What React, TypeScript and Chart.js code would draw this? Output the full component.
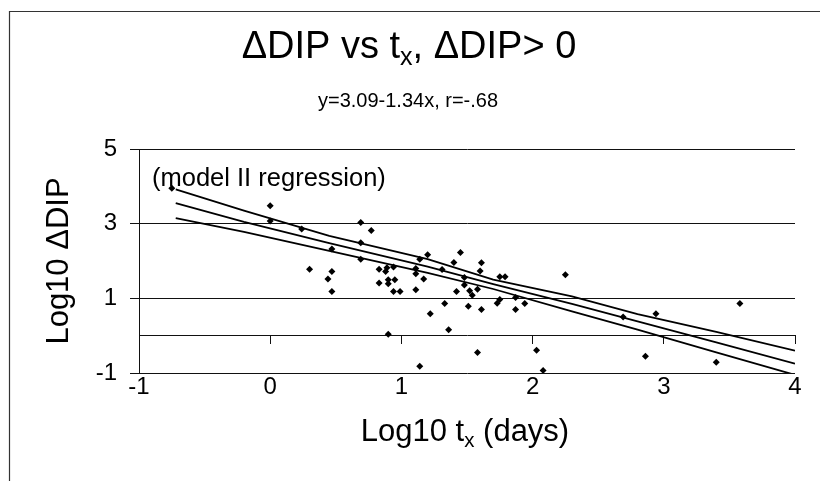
import React, { useEffect, useRef } from 'react';
import { Chart, registerables } from 'chart.js';

Chart.register(...registerables);

const FONT = '"Liberation Sans", Arial, Helvetica, sans-serif';

// Observed points: log10 t_x (days) and log10 ΔDIP
const pointX = [
  -0.75, 0.0, 0.0, 0.24, 0.47, 0.30, 0.47, 0.44, 0.47,
  0.69, 0.77, 0.69, 0.69, 0.83, 0.88, 0.89, 0.94, 0.83, 0.90, 0.90, 0.95, 0.94, 0.99, 0.90,
  1.11, 1.11, 1.14, 1.20, 1.17, 1.11, 1.22, 1.33, 1.36, 1.14, 1.31, 1.40, 1.45, 1.42,
  1.48, 1.48, 1.52, 1.54, 1.51, 1.60, 1.61, 1.58, 1.61, 1.58,
  1.75, 1.79, 1.73, 1.75, 1.87, 1.87, 1.94, 2.03, 2.08,
  2.25, 2.69, 2.94, 3.58, 2.86, 3.40,
];
const pointY = [
  3.95, 3.48, 3.07, 2.86, 2.32, 1.78, 1.72, 1.52, 1.18,
  3.03, 2.82, 2.49, 2.05, 1.78, 1.72, 1.82, 1.84, 1.41, 1.50, 1.39, 1.50, 1.18, 1.18, 0.04,
  1.80, 1.66, 2.05, 2.17, 1.52, 1.23, 0.59, 0.86, 0.16, -0.82, 1.77, 1.96, 2.23, 1.18,
  1.56, 1.36, 1.20, 1.08, 0.79, 1.73, 1.95, 1.24, 0.70, -0.45,
  1.58, 1.58, 0.87, 0.97, 1.02, 0.70, 0.86, -0.39, -0.93,
  1.63, 0.50, 0.59, 0.86, -0.55, -0.71,
];

// Model II regression line and its two bounding curves
const lineX = [-0.72, -0.2, 0.45, 1.2, 1.7, 2.3, 2.8, 3.4, 4.0];
const upperY = [3.92, 3.35, 2.67, 2.05, 1.5, 1.05, 0.58, 0.1, -0.4];
const fitY = [3.55, 3.05, 2.48, 1.85, 1.38, 0.85, 0.38, -0.18, -0.75];
const lowerY = [3.15, 2.78, 2.27, 1.68, 1.25, 0.65, 0.16, -0.45, -1.05];

const xTicks = [-1, 0, 1, 2, 3, 4];
const yTicks = [-1, 1, 3, 5];

const titleParts: [string, boolean][] = [['\u0394DIP vs t', false], ['x', true], [', \u0394DIP> 0', false]];
const subtitleText = 'y=3.09-1.34x, r=-.68';
const noteText = '(model II regression)';
const xTitleParts: [string, boolean][] = [['Log10 t', false], ['x', true], [' (days)', false]];
const yTitleText = 'Log10 \u0394DIP';

function drawRich(ctx: CanvasRenderingContext2D, parts: [string, boolean][], cx: number, y: number, size: number) {
  const sub = size * 0.66;
  const widths = parts.map(([t, s]) => {
    ctx.font = `${s ? sub : size}px ${FONT}`;
    return ctx.measureText(t).width;
  });
  const total = widths.reduce((a, b) => a + b, 0);
  let x = cx - total / 2;
  ctx.textAlign = 'left';
  ctx.textBaseline = 'alphabetic';
  parts.forEach(([t, s], i) => {
    ctx.font = `${s ? sub : size}px ${FONT}`;
    ctx.fillText(t, x, s ? y + size * 0.18 : y);
    x += widths[i];
  });
}

const decorPlugin = {
  id: 'decor',
  beforeDraw(chart: any) {
    const ctx = chart.ctx as CanvasRenderingContext2D;
    ctx.save();
    ctx.strokeStyle = '#333';
    ctx.lineWidth = 1.2;
    ctx.beginPath();
    ctx.moveTo(9.5, 481);
    ctx.lineTo(9.5, 11.5);
    ctx.lineTo(820, 11.5);
    ctx.stroke();
    ctx.restore();
  },
  afterDraw(chart: any) {
    const ctx = chart.ctx as CanvasRenderingContext2D;
    ctx.save();
    ctx.fillStyle = '#000';
    drawRich(ctx, titleParts, 409, 58, 38);
    ctx.font = `20px ${FONT}`;
    ctx.textAlign = 'center';
    ctx.textBaseline = 'alphabetic';
    ctx.fillText(subtitleText, 408, 107);
    ctx.font = `25.5px ${FONT}`;
    ctx.textAlign = 'left';
    ctx.fillText(noteText, 152, 186);
    drawRich(ctx, xTitleParts, 465, 441, 31);
    ctx.translate(68, 261);
    ctx.rotate(-Math.PI / 2);
    ctx.font = `31px ${FONT}`;
    ctx.textAlign = 'center';
    ctx.fillText(yTitleText, 0, 0);
    ctx.restore();
  },
};

export default function App() {
  const ref = useRef<HTMLCanvasElement | null>(null);

  useEffect(() => {
    if (!ref.current) return;
    const pts = pointX.map((x, i) => ({ x, y: pointY[i] }));
    const mk = (ys: number[]) => lineX.map((x, i) => ({ x, y: ys[i] }));
    const lineStyle = {
      showLine: true,
      pointRadius: 0,
      borderColor: '#000',
      borderWidth: 1.8,
      backgroundColor: '#000',
      tension: 0,
    };
    const chart = new Chart(ref.current, {
      type: 'scatter',
      data: {
        datasets: [
          { label: 'upper', data: mk(upperY), ...lineStyle },
          { label: 'fit', data: mk(fitY), ...lineStyle },
          { label: 'lower', data: mk(lowerY), ...lineStyle },
          {
            label: 'data',
            data: pts,
            pointStyle: 'rectRot',
            pointRadius: 3.5,
            pointBackgroundColor: '#000',
            pointBorderColor: '#000',
            pointBorderWidth: 0,
          },
        ],
      },
      options: {
        animation: false,
        responsive: false,
        devicePixelRatio: 1,
        layout: { padding: { left: 79, right: 25, top: 149, bottom: 0 } },
        plugins: { legend: { display: false }, tooltip: { enabled: false }, title: { display: false } },
        scales: {
          x: {
            type: 'linear',
            position: 'bottom',
            min: -1,
            max: 4,
            afterBuildTicks: (s: any) => { s.ticks = xTicks.map((v) => ({ value: v })); },
            afterFit: (s: any) => { s.height = 108; },
            ticks: { color: '#000', font: { family: FONT, size: 24 }, padding: -8, maxRotation: 0, autoSkip: false },
            grid: { display: false },
            border: { display: false },
          },
          x2: {
            type: 'linear',
            axis: 'x',
            position: { y: 0 },
            min: -1,
            max: 4,
            afterBuildTicks: (s: any) => { s.ticks = xTicks.map((v) => ({ value: v })); },
            ticks: { display: false },
            grid: { drawOnChartArea: false, drawTicks: true, tickLength: 8, color: '#111', lineWidth: 1 },
            border: { display: true, color: '#111', width: 1 },
          },
          y: {
            type: 'linear',
            min: -1,
            max: 5,
            afterBuildTicks: (s: any) => { s.ticks = yTicks.map((v) => ({ value: v })); },
            afterFit: (s: any) => { s.width = 60; },
            ticks: { color: '#000', font: { family: FONT, size: 24 }, padding: 13, autoSkip: false },
            grid: { color: '#111', lineWidth: 1, drawTicks: true, tickLength: 9 },
            border: { display: true, color: '#111', width: 1 },
          },
        } as any,
      },
      plugins: [decorPlugin],
    });
    return () => chart.destroy();
  }, []);

  return (
    <div style={{ position: 'absolute', left: 0, top: 0, width: 820, height: 481, background: '#fff' }}>
      <canvas ref={ref} width={820} height={481} style={{ display: 'block', width: 820, height: 481 }} />
    </div>
  );
}
